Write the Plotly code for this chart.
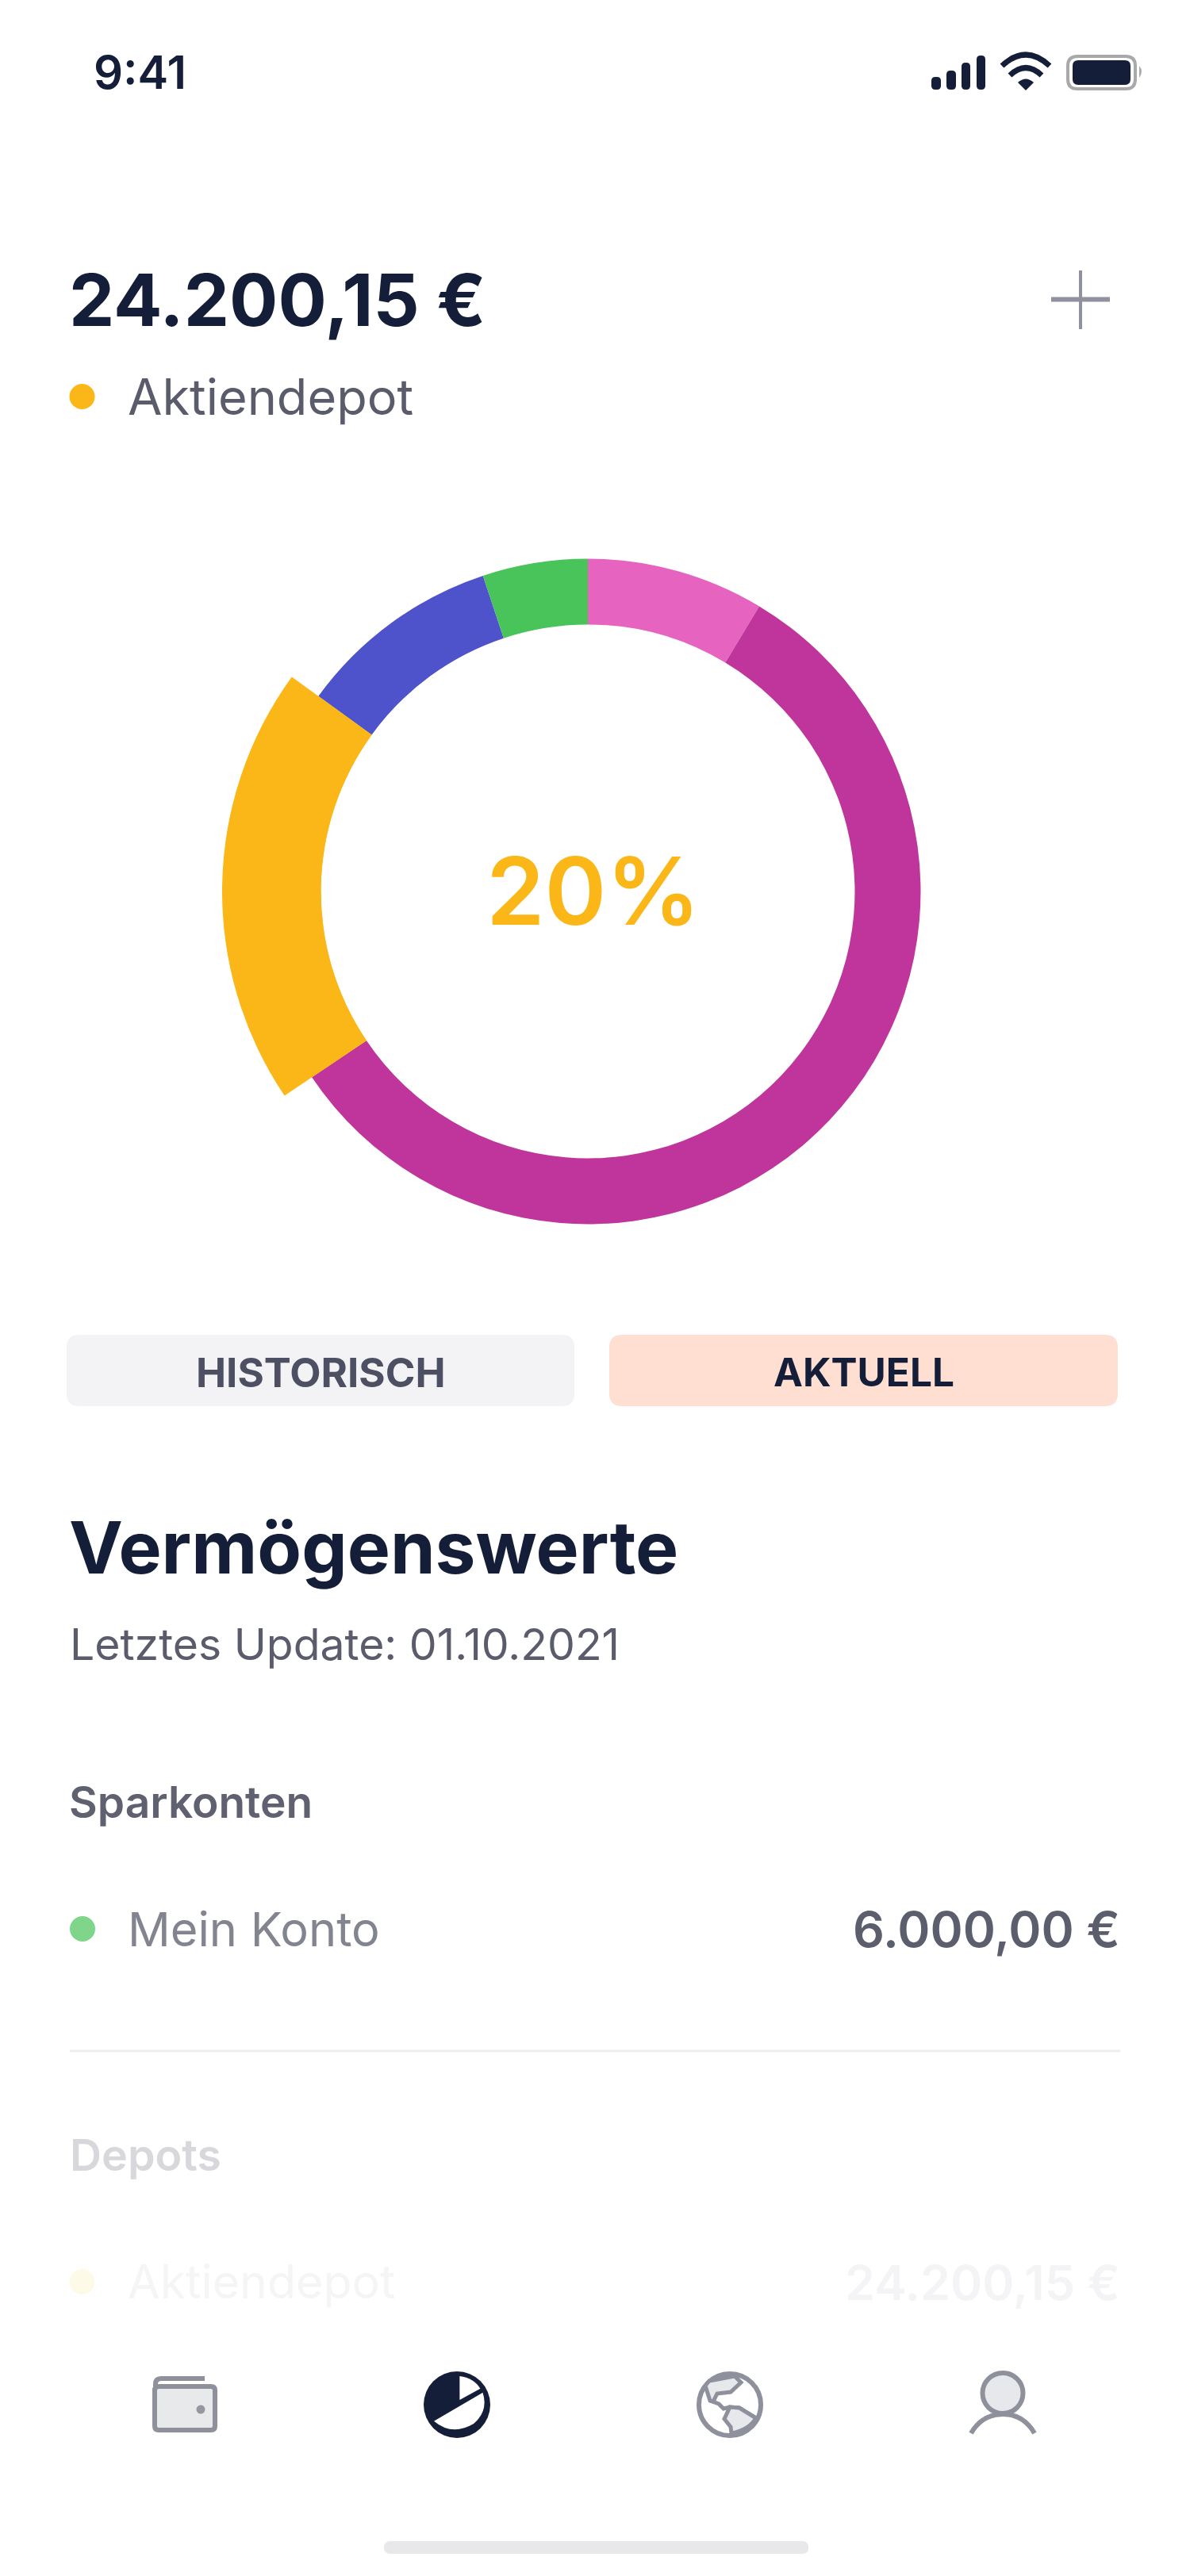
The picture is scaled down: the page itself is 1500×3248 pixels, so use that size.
#!/usr/bin/env python3
"""Portfolio screen: asset donut with the selected slice enlarged."""

import plotly.graph_objects as go

WIDTH = 1500
HEIGHT = 3248
FONT = "Inter"

NAVY = "#141e38"
GREY_TEXT = "#5a5c6c"
ICON_GREY = "#8e909b"
ICON_FILL = "#e6e8ec"

SLICE_LABELS = ["Rosa", "Lila", "Aktiendepot", "Blau", "Sparkonten"]
SLICE_VALUES = [8.6, 56.9, 19.4, 9.9, 5.1]
SLICE_COLORS = ["#e763c0", "#bf359b", "#fbb718", "#4e52cb", "#48c45a"]
SELECTED = "Aktiendepot"

DOT_X = [103.5, 104, 103.5]
DOT_Y = [500, 2432, 2877]
DOT_COLORS = ["#fbb718", "#7fd68b", "#fefae8"]

CENTER_X = 741
CENTER_Y = 1124
RING_OUTER = 419.5
RING_INNER = 336.5
SELECTED_OUTER = 461


def domain(radius):
    return dict(
        x=[(CENTER_X - radius) / WIDTH, (CENTER_X + radius) / WIDTH],
        y=[1 - (CENTER_Y + radius) / HEIGHT, 1 - (CENTER_Y - radius) / HEIGHT],
    )


def rounded(x0, y0, x1, y1, r):
    return (
        f"M{x0 + r},{y0} L{x1 - r},{y0} Q{x1},{y0} {x1},{y0 + r} "
        f"L{x1},{y1 - r} Q{x1},{y1} {x1 - r},{y1} L{x0 + r},{y1} "
        f"Q{x0},{y1} {x0},{y1 - r} L{x0},{y0 + r} Q{x0},{y0} {x0 + r},{y0} Z"
    )


def path(d, fill="rgba(0,0,0,0)", line=None, width=0):
    return dict(
        type="path", path=d, xref="x", yref="y", fillcolor=fill,
        line=dict(color=line or "rgba(0,0,0,0)", width=width),
    )


def circle(cx, cy, r, fill="rgba(0,0,0,0)", line=None, width=0):
    return dict(
        type="circle", xref="x", yref="y", x0=cx - r, x1=cx + r, y0=cy - r, y1=cy + r,
        fillcolor=fill, line=dict(color=line or "rgba(0,0,0,0)", width=width),
    )


def label(x, y, text, size, color, weight=400, anchor="left"):
    # y is the vertical middle of the capitals
    return dict(
        x=x, y=y, xref="x", yref="y", text=text, showarrow=False,
        xanchor=anchor, yanchor="middle", borderpad=0, borderwidth=0,
        font=dict(family=FONT, size=size, color=color, weight=weight),
    )


def status_bar_shapes():
    shapes = []
    for x0, x1, top in [(1174, 1186, 97), (1193, 1205, 89), (1212, 1223, 79), (1231, 1242, 70)]:
        shapes.append(path(rounded(x0, top, x1, 113, 5), fill=NAVY))
    # wifi
    shapes.append(path("M1263,83 Q1293,55 1323,83", line=NAVY, width=7))
    shapes.append(path("M1273,95 Q1293,76 1313,95", line=NAVY, width=7))
    shapes.append(path("M1283,104 Q1293,95 1303,104 L1293,114 Z", fill=NAVY))
    # battery
    shapes.append(path(rounded(1346, 71, 1431, 112, 12), line="#a9a9a9", width=4))
    shapes.append(path(rounded(1352, 76, 1425, 107, 7), fill=NAVY))
    shapes.append(path("M1436,83 Q1442,90 1436,98 Z", fill="#a9a9a9"))
    return shapes


def nav_shapes():
    shapes = []
    # wallet
    shapes.append(path(rounded(195, 3009, 271, 3064, 5), fill="#e7e9ea", line=ICON_GREY, width=6))
    shapes.append(path("M258,2999 L203,2999 Q196,2999 196,3006 L196,3012", line=ICON_GREY, width=6))
    shapes.append(circle(253, 3038, 5.5, fill="#97989f"))
    # pie
    shapes.append(circle(576, 3032, 42, fill=NAVY))
    shapes.append(path("M579.4,3026 L579.4,2996 Q597,2998 605.4,3011.7 Z", fill="white"))
    shapes.append(path("M547,3052.7 L608.5,3016.7 Q616,3040 597,3056 Q570,3072 547,3052.7 Z", fill="white"))
    # globe
    shapes.append(circle(920, 3032, 39, fill="white", line=ICON_GREY, width=6))
    shapes.append(path(
        "M889,3008 L894,3002 L926,2996 L934,3004 L921,3016 L904,3018 L899,3028 L895,3027 Z",
        fill=ICON_FILL, line=ICON_GREY, width=5,
    ))
    shapes.append(path("M895,3027 L906,3031 L912,3037 L920,3035 L932,3036 L953,3049", line=ICON_GREY, width=5))
    shapes.append(path(
        "M920,3035 L932,3036 L953,3049 Q944,3064 922,3068 L921,3060 L913,3050 Z",
        fill=ICON_FILL, line=ICON_GREY, width=5,
    ))
    # person
    shapes.append(circle(1264, 3017.5, 25.5, fill=ICON_FILL, line=ICON_GREY, width=6))
    shapes.append(path("M1224,3068 Q1238,3044 1264,3044 Q1290,3044 1304,3068", line=ICON_GREY, width=6))
    return shapes


fig = go.Figure()

# full ring
fig.add_trace(go.Pie(
    labels=SLICE_LABELS, values=SLICE_VALUES, sort=False, direction="clockwise", rotation=0,
    hole=RING_INNER / RING_OUTER, domain=domain(RING_OUTER), textinfo="none", showlegend=False,
    marker=dict(colors=SLICE_COLORS, line=dict(width=0)),
))

# same data on a bigger radius, only the selected slice stays visible
fig.add_trace(go.Pie(
    labels=SLICE_LABELS, values=SLICE_VALUES, sort=False, direction="clockwise", rotation=0,
    hole=RING_INNER / SELECTED_OUTER, domain=domain(SELECTED_OUTER), textinfo="none", showlegend=False,
    marker=dict(
        colors=[c if n == SELECTED else "rgba(0,0,0,0)" for n, c in zip(SLICE_LABELS, SLICE_COLORS)],
        line=dict(width=0),
    ),
))

fig.add_trace(go.Scatter(
    x=DOT_X, y=DOT_Y, mode="markers", showlegend=False, hoverinfo="skip",
    marker=dict(size=32, color=DOT_COLORS, line=dict(width=0)),
))

shapes = status_bar_shapes() + nav_shapes()
# plus button
shapes.append(path("M1325,377.5 L1399,377.5", line="#8f919e", width=6))
shapes.append(path("M1362,341 L1362,415", line="#8f919e", width=4))
# toggle buttons
shapes.append(path(rounded(84, 1683, 724, 1773, 16), fill="#f3f3f6"))
shapes.append(path(rounded(768, 1683, 1409, 1773, 16), fill="#fedfd2"))
# divider and home indicator
shapes.append(path("M88,2586 L1412,2586", line="#eeeef0", width=3))
shapes.append(path(rounded(484, 3204, 1019, 3220, 8), fill="#e8e8ea"))

annotations = [
    label(118, 91, "9:41", 58, NAVY, 600),
    label(87, 378, "24.200,15 €", 91, NAVY, 700),
    label(161, 500, "Aktiendepot", 63, GREY_TEXT),
    label(748, 1123, "20%", 118, "#fbb718", 600, "center"),
    label(404, 1730, "HISTORISCH", 51, "#4d5062", 700, "center"),
    label(1089, 1730, "AKTUELL", 49.5, NAVY, 700, "center"),
    label(87, 1951, "Vermögenswerte", 91, NAVY, 700),
    label(88, 2072, "Letztes Update: 01.10.2021", 55.3, GREY_TEXT),
    label(87, 2272, "Sparkonten", 55, "#5f6170", 600),
    label(161, 2432, "Mein Konto", 59.5, "#828490"),
    label(1412, 2432, "6.000,00 €", 62.5, "#5b5e6d", 600, "right"),
    label(88, 2716, "Depots", 55.5, "#d8d8dc", 600),
    label(161, 2876, "Aktiendepot", 59, "#f5f5f6"),
    label(1412, 2878, "24.200,15 €", 61, "#f4f4f6", 600, "right"),
]

fig.update_layout(
    width=WIDTH,
    height=HEIGHT,
    margin=dict(l=0, r=0, t=0, b=0),
    paper_bgcolor="white",
    plot_bgcolor="white",
    xaxis=dict(range=[0, WIDTH], visible=False, fixedrange=True),
    yaxis=dict(range=[HEIGHT, 0], visible=False, fixedrange=True),
    shapes=shapes,
    annotations=annotations,
    showlegend=False,
)

fig.write_html("out.html", config={"displayModeBar": False}, post_script="document.body.style.margin='0';")
